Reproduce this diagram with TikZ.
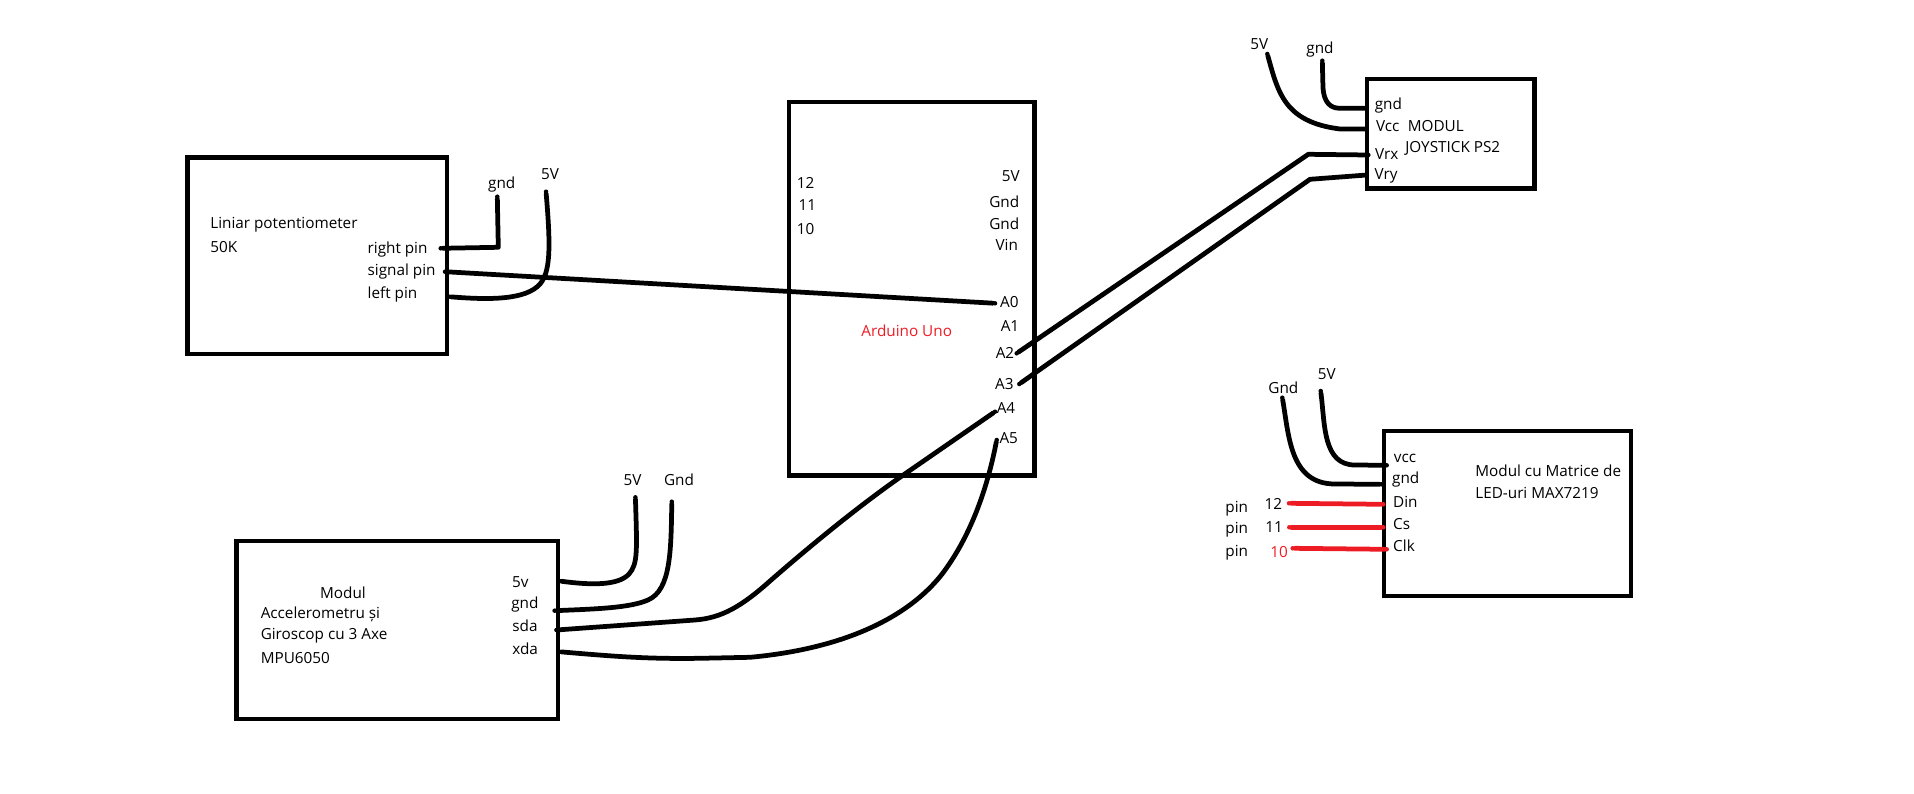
\documentclass[tikz,border=0pt]{standalone}
\usepackage{fontspec}
\setmainfont{Open Sans}
\definecolor{wirered}{RGB}{237,28,36}
\begin{document}
\begin{tikzpicture}[
  x = 0.02cm,
  y = -0.02cm,
  dot/.style = {
    shape = circle,
    fill = black,
    minimum size = 0.09cm,
    inner sep = 0pt,
    outer sep = 0pt,
  },
  modulebox/.style = {
    draw = black,
    line width = 0.085cm,
    inner sep = 0pt,
    outer sep = 0pt,
  },
  wire/.style = {
    draw = black,
    line width = 0.095cm,
    line cap = round,
    line join = round,
  },
  redwire/.style = {
    wire,
    draw = wirered,
  },
  lbl/.style = {
    inner sep = 0pt,
    font = \fontsize{8.7pt}{10pt}\selectfont,
  },
  lleft/.style = {
    lbl,
    anchor = west,
  }
]
  \useasboundingbox (0, 0) rectangle (1914, 794);

  \node[modulebox, minimum width = 5.19cm, minimum height = 3.93cm] (pot) at (317.25, 255.75) {};
  \node[modulebox, minimum width = 4.91cm, minimum height = 7.476cm] (uno) at (911.75, 288.6) {};
  \node[modulebox, minimum width = 3.356cm, minimum height = 2.19cm] (joy) at (1450.6, 133.75) {};
  \node[modulebox, minimum width = 4.942cm, minimum height = 3.3cm] (matrix) at (1507.25, 513.2) {};
  \node[modulebox, minimum width = 6.43cm, minimum height = 3.56cm] (mpu) at (397.15, 630) {};

  \node[lleft] (potname) at (210, 225) {Liniar potentiometer};
  \node[lleft] (potval) at (210, 246.7) {50K};
  \node[lleft] (potright) at (367.3, 250) {right pin};
  \node[lleft] (potsignal) at (367.3, 271.7) {signal pin};
  \node[lleft] (potleft) at (367.3, 294) {left pin};
  \node[lbl] (potgnd) at (501.7, 185) {gnd};
  \node[lbl] (pot5v) at (550, 174.3) {5V};

  \node[lbl] (uno12) at (805.7, 182.7) {12};
  \node[lbl] (uno11) at (807.3, 205) {11};
  \node[lbl] (uno10) at (805.7, 229.3) {10};
  \node[lbl] (uno5v) at (1010.7, 176) {5V};
  \node[lbl] (unognda) at (1004.3, 201.7) {Gnd};
  \node[lbl] (unogndb) at (1004.3, 223.3) {Gnd};
  \node[lbl] (unovin) at (1006.7, 245) {Vin};
  \node[lbl] (unoa0) at (1009.3, 302.3) {A0};
  \node[lbl] (unoa1) at (1010, 325.7) {A1};
  \node[lbl] (unoa2) at (1005, 353.3) {A2};
  \node[lbl] (unoa3) at (1004.3, 384.3) {A3};
  \node[lbl] (unoa4) at (1006, 408.3) {A4};
  \node[lbl] (unoa5) at (1008.7, 438.3) {A5};
  \node[lbl, text = wirered] (unoname) at (906.7, 330.7) {Arduino Uno};

  \node[lbl] (joy5v) at (1259.3, 44) {5V};
  \node[lbl] (joygndtop) at (1320, 50) {gnd};
  \node[lbl] (joygnd) at (1388.3, 106) {gnd};
  \node[lbl] (joyvcc) at (1387.7, 126) {Vcc};
  \node[lbl] (joyvrx) at (1386.7, 154.3) {Vrx};
  \node[lbl] (joyvry) at (1386, 175.7) {Vry};
  \node[lleft] (joyname) at (1407.5, 126) {MODUL};
  \node[lleft] (joytype) at (1405, 148.3) {JOYSTICK PS2};

  \node[lbl] (mat5v) at (1326.7, 374.3) {5V};
  \node[lbl] (matgndtop) at (1283.3, 387.7) {Gnd};
  \node[lbl] (matvcc) at (1405, 458.3) {vcc};
  \node[lbl] (matgnd) at (1405.7, 480) {gnd};
  \node[lbl] (matdin) at (1405.3, 502) {Din};
  \node[lbl] (matcs) at (1401.7, 524) {Cs};
  \node[lbl] (matclk) at (1404, 545.7) {Clk};
  \node[lbl] (pina) at (1236.7, 508.3) {pin};
  \node[lbl] (pinb) at (1236.7, 530) {pin};
  \node[lbl] (pinc) at (1236.7, 552.3) {pin};
  \node[lbl] (pin12) at (1273.3, 504.3) {12};
  \node[lbl] (pin11) at (1274, 527.3) {11};
  \node[lbl, text = wirered] (pin10) at (1279, 551.7) {10};
  \node[lleft] (matname) at (1475, 470.7) {Modul cu Matrice de};
  \node[lleft] (mattype) at (1475, 492.7) {LED-uri MAX7219};

  \node[lbl] (mpuname) at (343, 592.3) {Modul};
  \node[lleft] (mpuacc) at (260.4, 614) {Accelerometru și};
  \node[lleft] (mpugyr) at (260.4, 636) {Giroscop cu 3 Axe};
  \node[lleft] (mputype) at (260.4, 658.3) {MPU6050};
  \node[lleft] (mpu5vpin) at (511.8, 581.7) {5v};
  \node[lleft] (mpugnd) at (511, 604.3) {gnd};
  \node[lleft] (mpusda) at (512, 625.7) {sda};
  \node[lleft] (mpuxda) at (512, 648.3) {xda};
  \node[lbl] (mpu5v) at (632.5, 480) {5V};
  \node[lbl] (mpugndtop) at (679, 480) {Gnd};

  \node[dot] (Pr) at (440.7, 248.3) {};
  \node[dot] (Ps) at (445, 271.7) {};
  \node[dot] (Pl) at (449, 296.7) {};
  \node[dot] (Pg) at (497.3, 196.7) {};
  \node[dot] (Pv) at (546, 191.7) {};
  \node[dot] (A0) at (995, 303.3) {};
  \node[dot] (A2) at (1016.7, 353.3) {};
  \node[dot] (A3) at (1019.3, 384) {};
  \node[dot] (A4) at (995, 411.7) {};
  \node[dot] (A5) at (996.7, 440) {};
  \node[dot] (Jg) at (1366.7, 108.3) {};
  \node[dot] (Jv) at (1366.7, 129) {};
  \node[dot] (Jx) at (1368.3, 155) {};
  \node[dot] (Jy) at (1366.7, 175) {};
  \node[dot] (Jgf) at (1322.3, 60.7) {};
  \node[dot] (Jvf) at (1267.3, 54) {};
  \node[dot] (Mg) at (1381.7, 484.3) {};
  \node[dot] (Mv) at (1386.7, 465.3) {};
  \node[dot] (Mgf) at (1282.3, 397.7) {};
  \node[dot] (Mvf) at (1320.7, 391) {};
  \node[dot, fill = wirered] (Md) at (1383.3, 504.3) {};
  \node[dot, fill = wirered] (Mc) at (1383.3, 527.3) {};
  \node[dot, fill = wirered] (Mk) at (1386.7, 549.3) {};
  \node[dot, fill = wirered] (Rd) at (1289, 503.3) {};
  \node[dot, fill = wirered] (Rc) at (1289.3, 527.3) {};
  \node[dot, fill = wirered] (Rk) at (1292.7, 548.3) {};
  \node[dot] (U5) at (559.3, 581) {};
  \node[dot] (Ug) at (554.6, 610.7) {};
  \node[dot] (Us) at (556.4, 630) {};
  \node[dot] (Ux) at (559.3, 651.7) {};
  \node[dot] (U5f) at (635.4, 497.3) {};
  \node[dot] (Ugf) at (671.8, 501.7) {};

  \draw[wire] (Pr) -- (498.3, 247.3) -- (Pg);
  \draw[wire] (Ps) -- (A0);
  \draw[wire] (Pl) .. controls (490, 300) and (526, 300) .. (540, 284) .. controls (550, 272) and (551, 250) .. (Pv);

  \draw[wire] (A2) -- (1308.3, 154.3) -- (Jx);
  \draw[wire] (A3) -- (1310, 179.3) -- (Jy);
  \draw[wire] (Jgf) -- (1323, 88) .. controls (1324, 102) and (1330, 108.3) .. (1340, 108.3) -- (Jg);
  \draw[wire] (Jvf) .. controls (1278, 92) and (1284, 122) .. (1340, 129) -- (Jv);

  \draw[wire] (Mgf) .. controls (1289, 436) and (1290, 484) .. (1335, 484) -- (Mg);
  \draw[wire] (Mvf) .. controls (1325, 425) and (1323, 465) .. (1355, 465) -- (Mv);
  \draw[redwire] (Rd) -- (Md);
  \draw[redwire] (Rc) -- (Mc);
  \draw[redwire] (Rk) -- (Mk);

  \draw[wire] (U5) .. controls (590, 585) and (618, 586) .. (629, 574) .. controls (638, 564) and (637, 550) .. (U5f);
  \draw[wire] (Ug) .. controls (595, 609) and (630, 608) .. (648, 600) .. controls (671, 590) and (671, 550) .. (Ugf);
  \draw[wire] (Us) -- (695, 620) .. controls (722, 618) and (742, 606) .. (770, 581) .. controls (810, 546) and (860, 505) .. (903.3, 475) -- (A4);
  \draw[wire] (Ux) .. controls (620, 657) and (650, 659) .. (700, 658.3) -- (750, 657.3) .. controls (830, 650) and (900, 625) .. (940, 576.7) .. controls (965, 545) and (985, 500) .. (A5);
\end{tikzpicture}
\end{document}
